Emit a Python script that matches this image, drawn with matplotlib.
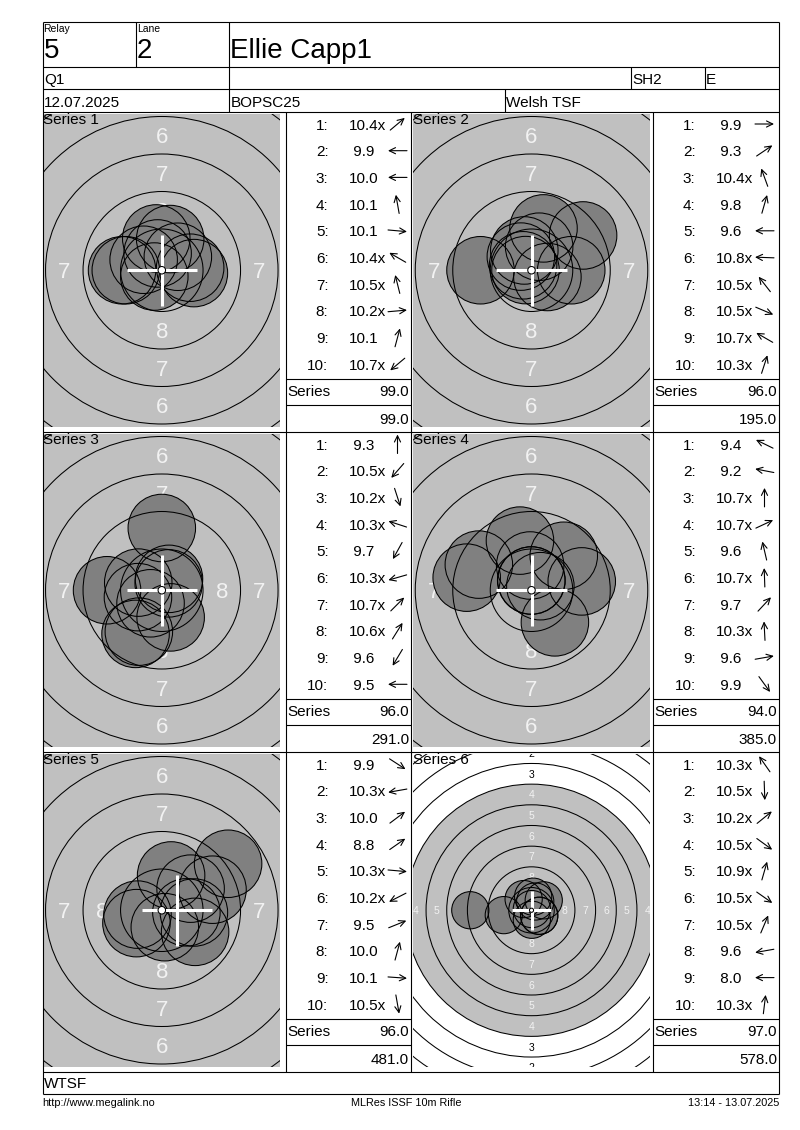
import numpy as np
import matplotlib.pyplot as plt
from matplotlib.patches import Circle

plt.rcParams['font.family'] = ['Liberation Sans', 'DejaVu Sans']

W, H = 800, 1130

# header fields
relay = '5'
lane = '2'
shooter = 'Ellie Capp1'
klass = 'Q1'
team = 'SH2'
group = 'E'
date = '12.07.2025'
event = 'BOPSC25'
club = 'Welsh TSF'
footer_club = 'WTSF'
footer_left = 'http://www.megalink.no'
footer_mid = 'MLRes ISSF 10m Rifle'
footer_right = '13:14 - 13.07.2025'

series_names = ['Series 1', 'Series 2', 'Series 3', 'Series 4', 'Series 5', 'Series 6']
series_totals = ['99.0', '96.0', '96.0', '94.0', '96.0', '97.0']
running_totals = ['99.0', '195.0', '291.0', '385.0', '481.0', '578.0']

# shot values as listed
s1_scores = ['10.4x', '9.9', '10.0', '10.1', '10.1', '10.4x', '10.5x', '10.2x', '10.1', '10.7x']
s2_scores = ['9.9', '9.3', '10.4x', '9.8', '9.6', '10.8x', '10.5x', '10.5x', '10.7x', '10.3x']
s3_scores = ['9.3', '10.5x', '10.2x', '10.3x', '9.7', '10.3x', '10.7x', '10.6x', '9.6', '9.5']
s4_scores = ['9.4', '9.2', '10.7x', '10.7x', '9.6', '10.7x', '9.7', '10.3x', '9.6', '9.9']
s5_scores = ['9.9', '10.3x', '10.0', '8.8', '10.3x', '10.2x', '9.5', '10.0', '10.1', '10.5x']
s6_scores = ['10.3x', '10.5x', '10.2x', '10.5x', '10.9x', '10.5x', '10.5x', '9.6', '8.0', '10.3x']

# direction arrows (degrees, counter-clockwise from east)
s1_dirs = [40, 180, 180, 100, -5, 150, 104, 5, 75, 220]
s2_dirs = [0, 34, 110, 74, 180, 178, 128, -23, 150, 72]
s3_dirs = [90, 229, -72, 162, 241, 196, 45, 58, 239, 180]
s4_dirs = [154, 169, 90, 25, 103, 92, 47, 93, 10, -54]
s5_dirs = [-33, 190, 37, 35, -5, 207, 22, 75, -4, -80]
s6_dirs = [125, -88, 39, -36, 74, -35, 67, 190, 180, 83]

# shot centres on the target (mm from centre)
s1_x = [1.07, -2.65, -2.40, -0.37, 2.14, -1.21, -0.28, 1.89, 0.56, -0.50]
s1_y = [0.90, 0.00, 0.00, 2.12, -0.19, 0.70, 1.12, 0.17, 2.08, -0.42]
s2_x = [2.65, 3.44, -0.48, 0.80, -3.40, -0.40, -0.71, 1.06, -0.56, 0.51]
s2_y = [0.00, 2.32, 1.32, 2.79, 0.00, 0.01, 0.91, -0.45, 0.33, 1.57]
s3_x = [0.00, -0.75, 0.59, -1.57, -1.53, -1.59, 0.46, 0.48, -1.75, -3.65]
s3_y = [4.15, -0.87, -1.81, 0.51, -2.76, -0.46, 0.46, 0.76, -2.91, 0.00]
s4_x = [-3.51, -4.32, 0.00, 0.59, -0.77, -0.02, 2.15, -0.09, 3.35, 1.56]
s4_y = [1.71, 0.84, 0.65, 0.27, 3.31, 0.65, 2.30, 1.65, 0.59, -2.14]
s5_x = [2.22, -1.62, 1.92, 4.42, 1.64, -1.69, 3.38, 0.62, 2.14, 0.20]
s5_y = [-1.44, -0.29, 1.44, 3.10, -0.14, -0.86, 1.37, 2.32, -0.15, -1.13]
s6_x = [-0.95, 0.04, 1.48, 0.93, 0.04, 0.94, 0.45, -3.35, -7.40, 0.20]
s6_y = [1.35, -1.15, 1.20, -0.68, 0.14, -0.66, 1.06, -0.59, 0.00, 1.64]

cross_x = [0.0, 0.0, 0.0, 0.0, 1.03, 0.0]
cross_y = [0.0, 0.0, 0.0, 0.0, 0.0, 0.0]

all_scores = [s1_scores, s2_scores, s3_scores, s4_scores, s5_scores, s6_scores]
all_dirs = [s1_dirs, s2_dirs, s3_dirs, s4_dirs, s5_dirs, s6_dirs]
all_x = [s1_x, s2_x, s3_x, s4_x, s5_x, s6_x]
all_y = [s1_y, s2_y, s3_y, s4_y, s5_y, s6_y]

# ISSF 10m rifle target geometry (mm)
ring_numbers = [1, 2, 3, 4, 5, 6, 7, 8, 9]
ring_radius = [22.75, 20.25, 17.75, 15.25, 12.75, 10.25, 7.75, 5.25, 2.75]
label_radius = [21.5, 19.0, 16.5, 14.0, 11.5, 9.0, 6.5, 4.0]
black_radius = 15.25
ten_radius = 0.25
pellet_radius = 2.25

px_per_mm = [15, 15, 15, 15, 15, 8.27]
label_size = [16, 16, 16, 16, 16, 7.5]

row_tops = [111.5, 431.5, 751.5]
target_left = [43.3, 413.0]
list_left = [285.5, 652.5]
list_right = [410.5, 778.5]
TW, TH = 237, 313.5

fig = plt.figure(figsize=(8, 11.3), dpi=100)
ax = fig.add_axes([0, 0, 1, 1], zorder=10)
ax.set_xlim(0, W)
ax.set_ylim(H, 0)
ax.axis('off')


def line(x0, y0, x1, y1):
    ax.plot([x0, x1], [y0, y1], color='black', lw=0.8, solid_capstyle='butt')


def draw_target(k):
    row, col = k // 2, k % 2
    x0 = target_left[col]
    y0 = row_tops[row] + 2
    sc = px_per_mm[k]
    xlim, ylim = TW / 2 / sc, TH / 2 / sc
    t = fig.add_axes([x0 / W, 1 - (y0 + TH) / H, TW / W, TH / H], zorder=1)
    t.set_xlim(-xlim, xlim)
    t.set_ylim(-ylim, ylim)
    t.set_xticks([])
    t.set_yticks([])
    for s in t.spines.values():
        s.set_visible(False)
    t.set_facecolor('white')

    t.add_patch(Circle((0, 0), black_radius, fc='#c0c0c0', ec='none', zorder=0))
    for r in ring_radius:
        t.add_patch(Circle((0, 0), r, fc='none', ec='black', lw=0.75, zorder=3))

    # ring numbers, only where at least part of the digit is inside the view
    half = label_size[k] * 1.389 * 0.36 / sc
    for n, r in zip(ring_numbers, label_radius):
        colr = '#f2f2f2' if n >= 4 else 'black'
        spots = []
        if r < ylim + half:
            spots += [(0, r), (0, -r)]
        if r < xlim + half:
            spots += [(-r, 0), (r, 0)]
        for lx, ly in spots:
            t.text(lx, ly, str(n), ha='center', va='center_baseline',
                   fontsize=label_size[k], color=colr, zorder=1, clip_on=True)

    for x, y in zip(all_x[k], all_y[k]):
        t.add_patch(Circle((x, y), pellet_radius, fc='#808080', ec='none', zorder=2))
        t.add_patch(Circle((x, y), pellet_radius, fc='none', ec='black', lw=0.75, zorder=3))

    cx, cy = cross_x[k], cross_y[k]
    t.plot([cx - 2.35, cx + 2.35], [cy, cy], color='white', lw=2.2, zorder=4, solid_capstyle='butt')
    t.plot([cx, cx], [cy - 2.35, cy + 2.35], color='white', lw=2.2, zorder=4, solid_capstyle='butt')
    t.add_patch(Circle((0, 0), ten_radius, fc='white', ec='black', lw=0.75, zorder=5))

    t.text(0.0, 1.0, series_names[k], transform=t.transAxes, ha='left', va='top',
           fontsize=11, zorder=6)


def draw_list(k):
    row, col = k // 2, k % 2
    top = row_tops[row]
    xl, xr = list_left[col], list_right[col]
    for i, s in enumerate(all_scores[k]):
        yb = top + 18 + i * 26.7
        ax.text(xl + 43, yb, f'{i + 1}:', ha='right', va='baseline', fontsize=11)
        txt = s if s.startswith('10') else ' ' + s
        ax.text(xl + 63.5, yb, txt, ha='left', va='baseline', fontsize=11)
        a = np.deg2rad(all_dirs[k][i])
        cxp, cyp = xl + 112, yb - 5.5
        dx, dy = 9.5 * np.cos(a), -9.5 * np.sin(a)
        ax.annotate('', xy=(cxp + dx, cyp + dy), xytext=(cxp - dx, cyp - dy),
                    arrowprops=dict(arrowstyle='->,head_length=0.45,head_width=0.22',
                                    lw=0.8, color='black', shrinkA=0, shrinkB=0))
    line(xl, top + 267, xr, top + 267)
    line(xl, top + 293.5, xr, top + 293.5)
    ax.text(xl + 1.5, top + 285, 'Series', ha='left', va='baseline', fontsize=11)
    ax.text(xr - 1.5, top + 285, series_totals[k], ha='right', va='baseline', fontsize=11)
    ax.text(xr - 1.5, top + 312.3, running_totals[k], ha='right', va='baseline', fontsize=11)


for k in range(6):
    draw_target(k)
    draw_list(k)

# frame and header grid
L, R, T, B = 42.5, 778.5, 21.5, 1093.5
line(L, T, R, T)
line(L, B, R, B)
line(L, T, L, B)
line(R, T, R, B)
for y in [66.5, 88.5, 111.5, 431.5, 751.5, 1071.5]:
    line(L, y, R, y)
line(135.5, T, 135.5, 66.5)
line(228.5, T, 228.5, 111.5)
line(630.5, 66.5, 630.5, 88.5)
line(704.5, 66.5, 704.5, 88.5)
line(504.5, 88.5, 504.5, 111.5)
for x in [285.5, 410.5, 652.5]:
    line(x, 111.5, x, 1071.5)

ax.text(43.5, 31.5, 'Relay', fontsize=7.5, va='baseline')
ax.text(137, 31.5, 'Lane', fontsize=7.5, va='baseline')
ax.text(43.5, 58.3, relay, fontsize=20, va='baseline')
ax.text(137, 58.3, lane, fontsize=20, va='baseline')
ax.text(230.5, 58.3, shooter, fontsize=20, va='baseline')
ax.text(44, 84, klass, fontsize=11, va='baseline')
ax.text(632, 84, team, fontsize=11, va='baseline')
ax.text(706, 84, group, fontsize=11, va='baseline')
ax.text(44, 106.7, date, fontsize=11, va='baseline')
ax.text(230.5, 106.7, event, fontsize=11, va='baseline')
ax.text(506.5, 106.7, club, fontsize=11, va='baseline')
ax.text(44, 1088.5, footer_club, fontsize=11, va='baseline')
ax.text(42, 1105.5, footer_left, fontsize=7.8, va='baseline', ha='left')
ax.text(406, 1105.5, footer_mid, fontsize=7.8, va='baseline', ha='center')
ax.text(779, 1105.5, footer_right, fontsize=7.8, va='baseline', ha='right')

fig.savefig('out.png', dpi=100)
